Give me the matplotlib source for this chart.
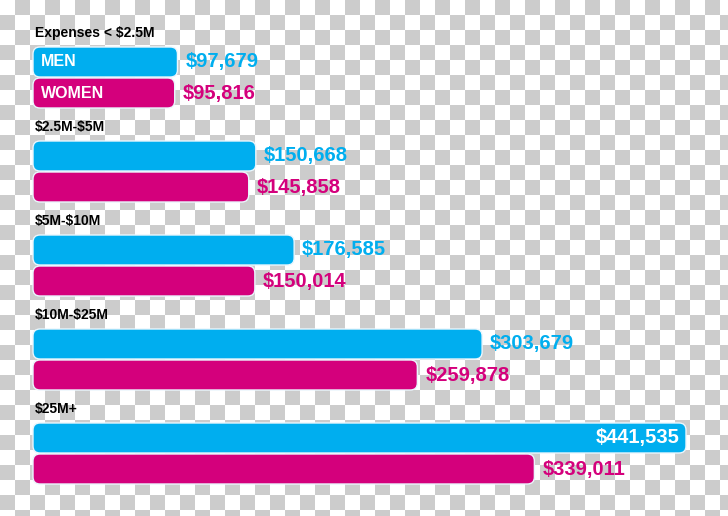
import numpy as np
import matplotlib
matplotlib.use("Agg")
import matplotlib.pyplot as plt
from matplotlib.patches import FancyBboxPatch

plt.rcParams["text.parse_math"] = False

# data
groups = ["Expenses < $2.5M", "$2.5M-$5M", "$5M-$10M", "$10M-$25M", "$25M+"]
men = [97679, 150668, 176585, 303679, 441535]
women = [95816, 145858, 150014, 259878, 339011]

CYAN = "#00aeef"
MAGENTA = "#d4007c"
CHECK = "#cccccc"

W, H, DPI = 728, 516, 100
fig = plt.figure(figsize=(W / DPI, H / DPI), dpi=DPI)

# checkerboard background (transparent look of the source)
bg = fig.add_axes([0, 0, 1, 1])
sq = 15
nr, nc = H // sq + 1, W // sq + 1
pat = (np.add.outer(np.arange(nr), np.arange(nc)) % 2).astype(float)
bg.imshow(pat, cmap=matplotlib.colors.ListedColormap(["white", CHECK]),
          extent=(0, nc * sq, nr * sq, 0), interpolation="nearest", aspect="auto")
bg.set_xlim(0, W)
bg.set_ylim(H, 0)
bg.axis("off")

# main axes: x in dollars, y in layout pixels
ax = fig.add_axes([0, 0, 1, 1])
ax.patch.set_alpha(0)
x0_px = 33
px_per_usd = (686 - x0_px) / max(men)
usd_per_px = 1 / px_per_usd
ax.set_xlim(-x0_px * usd_per_px, (W - x0_px) * usd_per_px)
ax.set_ylim(H, 0)
ax.axis("off")

step = 94
label_y0 = 33
bar_y0 = 47
bar_h = 30
gap = 1
rad = 7

font = ["Liberation Sans", "DejaVu Sans"]


def rbar(val, top, color):
    p = FancyBboxPatch((0, top), val, bar_h,
                       boxstyle=f"round,pad=0,rounding_size={rad * usd_per_px}",
                       mutation_aspect=px_per_usd,
                       facecolor=color, edgecolor="#eaf6fd", linewidth=1.0)
    ax.add_patch(p)


for i, g in enumerate(groups):
    ly = label_y0 + step * i
    ax.text(2 * usd_per_px, ly, g, fontsize=10, fontweight="bold",
            family=font, va="center", ha="left", color="black")
    mtop = bar_y0 + step * i
    wtop = mtop + bar_h + gap
    rbar(men[i], mtop, CYAN)
    rbar(women[i], wtop, MAGENTA)
    ms = f"${men[i]:,}"
    ws = f"${women[i]:,}"
    if i == len(groups) - 1:
        ax.text(men[i] - 6 * usd_per_px, mtop + bar_h / 2, ms, fontsize=14.5,
                fontweight="bold", family=font, va="center", ha="right", color="white")
    else:
        ax.text(men[i] + 8 * usd_per_px, mtop + bar_h / 2, ms, fontsize=14.5,
                fontweight="bold", family=font, va="center", ha="left", color=CYAN)
    ax.text(women[i] + 8 * usd_per_px, wtop + bar_h / 2, ws, fontsize=14.5,
            fontweight="bold", family=font, va="center", ha="left", color=MAGENTA)
    if i == 0:
        ax.text(8 * usd_per_px, mtop + bar_h / 2, "MEN", fontsize=11.5,
                fontweight="bold", family=font, va="center", ha="left", color="white")
        ax.text(8 * usd_per_px, wtop + bar_h / 2, "WOMEN", fontsize=11.5,
                fontweight="bold", family=font, va="center", ha="left", color="white")

fig.savefig("out.png", dpi=DPI)
